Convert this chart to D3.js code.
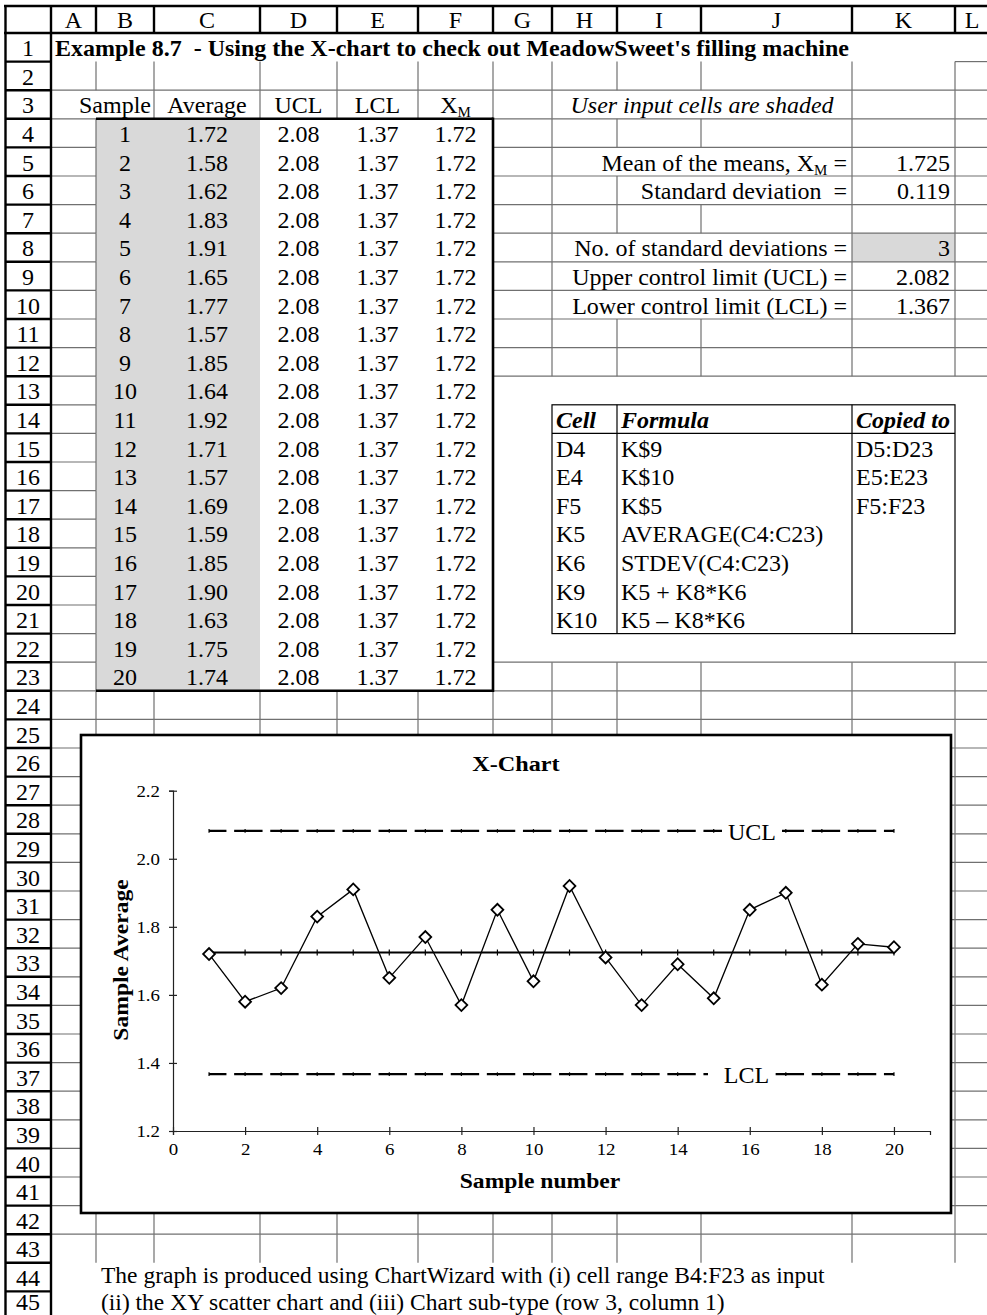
<!DOCTYPE html>
<html>
<head>
<meta charset="utf-8">
<script src="https://cdn.jsdelivr.net/npm/d3@7"></script>
<style>
  body { margin: 0; background: #fff; }
  svg { display: block; font-family: "Liberation Serif", "Times New Roman", serif; }
  text { white-space: pre; fill: #000; }
</style>
</head>
<body>
<svg id="sheet" width="987" height="1315"></svg>
<script>
// ---------- sheet contents ----------
const columnLetters = ["A", "B", "C", "D", "E", "F", "G", "H", "I", "J", "K", "L"];
const rowCount = 45;
const sampleNumbers = [1, 2, 3, 4, 5, 6, 7, 8, 9, 10, 11, 12, 13, 14, 15, 16, 17, 18, 19, 20];
const sampleAverages = [1.72, 1.58, 1.62, 1.83, 1.91, 1.65, 1.77, 1.57, 1.85, 1.64,
                        1.92, 1.71, 1.57, 1.69, 1.59, 1.85, 1.90, 1.63, 1.75, 1.74];
const numStdDevs = 3;
const tableHeaders = ["Sample", "Average", "UCL", "LCL"];
const yTickValues = [1.2, 1.4, 1.6, 1.8, 2.0, 2.2];
const xTickValues = [0, 2, 4, 6, 8, 10, 12, 14, 16, 18, 20];
const formulaCells = ["D4", "E4", "F5", "K5", "K6", "K9", "K10"];
const formulaTexts = ["K$9", "K$10", "K$5", "AVERAGE(C4:C23)", "STDEV(C4:C23)", "K5 + K8*K6", "K5 \u2013 K8*K6"];
const formulaCopies = ["D5:D23", "E5:E23", "F5:F23", "", "", "", ""];
const titleText = "Example 8.7  - Using the X-chart to check out MeadowSweet's filling machine";
const noteLines = [
  "The graph is produced using ChartWizard with (i) cell range B4:F23 as input",
  "(ii) the XY scatter chart and (iii) Chart sub-type (row 3, column 1)"
];

// statistics worked out the same way as the sheet (AVERAGE, STDEV)
const meanOfMeans = d3.mean(sampleAverages);
const stdDev = d3.deviation(sampleAverages);
const ucl = meanOfMeans + numStdDevs * stdDev;
const lcl = meanOfMeans - numStdDevs * stdDev;

// ---------- layout ----------
const svg = d3.select("#sheet");
const FS = 24;
const GRID = "#707070";
const colEdges = [51, 96, 154, 260, 337, 418, 493, 552, 617, 701, 852, 955, 1000];
const colMid = c => (colEdges[c] + colEdges[c + 1]) / 2;
const rowTop = r => 33 + (r - 1) * 28.6;
const rowBottom = r => rowTop(r + 1);
const baseY = r => Math.min(rowBottom(r) - 5.5, 1310);
const RIGHT = 987;

const gridG = svg.append("g").attr("stroke", GRID).attr("stroke-width", 1.2);
const hSeg = (g, y, x1, x2) => g.append("line").attr("x1", x1).attr("x2", x2).attr("y1", y).attr("y2", y);
const vSeg = (g, x, y1, y2) => g.append("line").attr("x1", x).attr("x2", x).attr("y1", y1).attr("y2", y2);

// fills of the input cells
svg.insert("rect", ":first-child")
  .attr("x", colEdges[1]).attr("y", rowTop(4))
  .attr("width", colEdges[3] - colEdges[1]).attr("height", rowBottom(23) - rowTop(4))
  .attr("fill", "#d9d9d9");
svg.insert("rect", ":first-child")
  .attr("x", colEdges[10]).attr("y", rowTop(8))
  .attr("width", colEdges[11] - colEdges[10]).attr("height", 28.6)
  .attr("fill", "#d9d9d9");

// vertical cell borders, row by row
const allBounds = d3.range(1, 12);
function boundsForRow(r) {
  if (r === 1) return [];
  if (r === 2) return allBounds;
  if (r === 3) return [2, 3, 4, 5, 6, 7, 10, 11];
  if (r >= 4 && r <= 12) {
    const b = [1, 7, 10, 11];
    if (![5, 8, 9, 10].includes(r)) b.push(8);
    if (![5, 6, 8, 9, 10].includes(r)) b.push(9);
    return b;
  }
  if (r >= 13 && r <= 22) return [1];
  if (r === 23) return [1, 7, 8, 9, 10, 11];
  if (r >= 24 && r <= 43) return allBounds;
  return [];
}
for (let r = 1; r <= rowCount; r++) {
  boundsForRow(r).forEach(k => vSeg(gridG, colEdges[k], rowTop(r), rowBottom(r)));
}

// horizontal cell borders
for (let r = 1; r <= rowCount; r++) {
  const y = rowBottom(r);
  if (r === 1) hSeg(gridG, y, colEdges[11], RIGHT);
  else if (r === 2 || (r >= 24 && r <= 42)) hSeg(gridG, y, colEdges[0], RIGHT);
  else if (r >= 3 && r <= 23) {
    hSeg(gridG, y, colEdges[0], colEdges[1]);
    if (r <= 12 || r >= 22) hSeg(gridG, y, colEdges[6], RIGHT);
  }
}

// heavy outline of the sample table
const heavy = svg.append("g").attr("stroke", "#000").attr("stroke-width", 2.6);
hSeg(heavy, rowTop(4), colEdges[1], colEdges[6]);
hSeg(heavy, rowBottom(23), colEdges[1], colEdges[6]);
vSeg(heavy, colEdges[6], rowTop(4) - 1.3, rowBottom(23) + 1.3);

// column header band and row header band
const hdr = svg.append("g").attr("stroke", "#000").attr("stroke-width", 2.4);
hSeg(hdr, 6, 4, RIGHT);
hSeg(hdr, rowTop(1), 4, RIGHT);
vSeg(hdr, 5.5, 5, 1315);
vSeg(hdr, colEdges[0], 5, 1315);
colEdges.slice(1, 12).forEach(x => vSeg(hdr, x, 6, rowTop(1)));
for (let r = 2; r <= rowCount + 1; r++) hSeg(hdr, rowTop(r), 5, colEdges[0]);

const textG = svg.append("g").attr("font-size", FS);
columnLetters.forEach((L, i) => {
  textG.append("text").attr("x", i === 11 ? 972 : colMid(i)).attr("y", 28)
    .attr("text-anchor", "middle").text(L);
});
for (let r = 1; r <= rowCount; r++) {
  textG.append("text").attr("x", 28).attr("y", baseY(r)).attr("text-anchor", "middle").text(r);
}

// title
textG.append("text").attr("x", 55).attr("y", baseY(1)).attr("font-weight", "bold").text(titleText);

// sample table
textG.append("text").attr("x", colEdges[2] - 3).attr("y", baseY(3)).attr("text-anchor", "end").text(tableHeaders[0]);
textG.append("text").attr("x", colMid(2)).attr("y", baseY(3)).attr("text-anchor", "middle").text(tableHeaders[1]);
textG.append("text").attr("x", colMid(3)).attr("y", baseY(3)).attr("text-anchor", "middle").text(tableHeaders[2]);
textG.append("text").attr("x", colMid(4)).attr("y", baseY(3)).attr("text-anchor", "middle").text(tableHeaders[3]);
const xmHead = textG.append("text").attr("x", colMid(5)).attr("y", baseY(3)).attr("text-anchor", "middle");
xmHead.append("tspan").text("X");
xmHead.append("tspan").attr("font-size", 15).attr("dy", 4).text("M");

const f2 = d3.format(".2f");
const f3 = d3.format(".3f");
sampleNumbers.forEach((n, i) => {
  const r = 4 + i;
  textG.append("text").attr("x", colMid(1)).attr("y", baseY(r)).attr("text-anchor", "middle").text(n);
  textG.append("text").attr("x", colMid(2)).attr("y", baseY(r)).attr("text-anchor", "middle").text(f2(sampleAverages[i]));
  textG.append("text").attr("x", colMid(3)).attr("y", baseY(r)).attr("text-anchor", "middle").text(f2(ucl));
  textG.append("text").attr("x", colMid(4)).attr("y", baseY(r)).attr("text-anchor", "middle").text(f2(lcl));
  textG.append("text").attr("x", colMid(5)).attr("y", baseY(r)).attr("text-anchor", "middle").text(f2(meanOfMeans));
});

// summary block
textG.append("text").attr("x", (colEdges[7] + colEdges[10]) / 2).attr("y", baseY(3))
  .attr("text-anchor", "middle").attr("font-style", "italic").text("User input cells are shaded");
const labX = colEdges[10] - 5, valX = colEdges[11] - 5;
const meanLab = textG.append("text").attr("x", labX).attr("y", baseY(5)).attr("text-anchor", "end");
meanLab.append("tspan").text("Mean of the means, X");
meanLab.append("tspan").attr("font-size", 15).attr("dy", 4).text("M");
meanLab.append("tspan").attr("dy", -4).text(" =");
const summary = [
  [6, "Standard deviation  =", f3(stdDev)],
  [8, "No. of standard deviations =", String(numStdDevs)],
  [9, "Upper control limit (UCL) =", f3(ucl)],
  [10, "Lower control limit (LCL) =", f3(lcl)]
];
textG.append("text").attr("x", valX).attr("y", baseY(5)).attr("text-anchor", "end").text(f3(meanOfMeans));
summary.forEach(([r, lab, val]) => {
  textG.append("text").attr("x", labX).attr("y", baseY(r)).attr("text-anchor", "end").text(lab);
  textG.append("text").attr("x", valX).attr("y", baseY(r)).attr("text-anchor", "end").text(val);
});

// formula table
const ft = svg.append("g").attr("stroke", "#000").attr("stroke-width", 1.2).attr("fill", "none");
ft.append("rect").attr("x", colEdges[7]).attr("y", rowTop(14))
  .attr("width", colEdges[11] - colEdges[7]).attr("height", rowBottom(21) - rowTop(14));
vSeg(ft, colEdges[8], rowTop(14), rowBottom(21));
vSeg(ft, colEdges[10], rowTop(14), rowBottom(21));
hSeg(ft, rowBottom(14), colEdges[7], colEdges[11]);
const ftx = [colEdges[7] + 4, colEdges[8] + 4, colEdges[10] + 4];
["Cell", "Formula", "Copied to"].forEach((h, i) => {
  textG.append("text").attr("x", ftx[i]).attr("y", baseY(14))
    .attr("font-weight", "bold").attr("font-style", "italic").text(h);
});
formulaCells.forEach((c, i) => {
  const r = 15 + i;
  textG.append("text").attr("x", ftx[0]).attr("y", baseY(r)).text(c);
  textG.append("text").attr("x", ftx[1]).attr("y", baseY(r)).text(formulaTexts[i]);
  if (formulaCopies[i]) textG.append("text").attr("x", ftx[2]).attr("y", baseY(r)).text(formulaCopies[i]);
});

// note under the chart
noteLines.forEach((t, i) => {
  textG.append("text").attr("x", 101).attr("y", 1283 + i * 27)
    .attr("font-size", 23.5).text(t);
});

// ---------- X-chart ----------
const chart = svg.append("g");
chart.append("rect").attr("x", 81).attr("y", 735).attr("width", 870).attr("height", 478)
  .attr("fill", "#fff").attr("stroke", "#000").attr("stroke-width", 2.6);

const x = d3.scaleLinear().domain([0, 21]).range([173, 930]);
const y = d3.scaleLinear().domain([1.2, 2.2]).range([1131, 790.7]);
const SX = 1.18; // chart lettering runs wide

const yAxis = chart.append("g").attr("transform", `translate(${x(0)},0)`)
  .call(d3.axisLeft(y).tickValues(yTickValues).tickFormat(d3.format(".1f")).tickSizeOuter(0).tickSize(4).tickPadding(0));
const xAxis = chart.append("g").attr("transform", `translate(0,${y(1.2)})`)
  .call(d3.axisBottom(x).tickValues(xTickValues).tickFormat(d3.format("d")).tickSizeOuter(0).tickSize(4).tickPadding(0));
[yAxis, xAxis].forEach(a => {
  a.select(".domain").attr("stroke", "#222").attr("stroke-width", 1.2);
  a.selectAll(".tick line").attr("stroke", "#222").attr("stroke-width", 1.2);
  a.selectAll("text").attr("font-family", "Liberation Serif, Times New Roman, serif").attr("font-size", 16).attr("fill", "#000");
});
yAxis.selectAll(".tick line").attr("x1", 4).attr("x2", -4);
yAxis.selectAll(".tick text").attr("x", -13 / SX).attr("dy", "0.35em").attr("transform", `scale(${SX},1)`);
xAxis.selectAll(".tick line").attr("y1", -4).attr("y2", 4);
xAxis.selectAll(".tick text").attr("y", 24).attr("dy", 0).attr("transform", `scale(${SX},1)`);

// titles
chart.append("text").attr("transform", `translate(516,771) scale(1.1,1)`)
  .attr("text-anchor", "middle").attr("font-weight", "bold").attr("font-size", 22).text("X-Chart");
chart.append("text").attr("transform", `translate(540,1188) scale(${SX},1)`)
  .attr("text-anchor", "middle").attr("font-weight", "bold").attr("font-size", 20).text("Sample number");
chart.append("text").attr("transform", `translate(128,960) rotate(-90) scale(${SX},1)`)
  .attr("text-anchor", "middle").attr("font-weight", "bold").attr("font-size", 20).text("Sample Average");

// control limits and centre line
const first = sampleNumbers[0], last = sampleNumbers[sampleNumbers.length - 1];
const limitLines = [
  { v: ucl, dash: "28.4 7.7", w: 2.2, tick: 1.8 },
  { v: lcl, dash: "28.4 7.7", w: 2.2, tick: 1.8 },
  { v: meanOfMeans, dash: null, w: 2.0, tick: 3 }
];
limitLines.forEach(L => {
  const ln = chart.append("line").attr("x1", x(first)).attr("x2", x(last))
    .attr("y1", y(L.v)).attr("y2", y(L.v)).attr("stroke", "#000").attr("stroke-width", L.w);
  if (L.dash) ln.attr("stroke-dasharray", L.dash).attr("stroke-dashoffset", 11);
  chart.append("g").selectAll("line").data(sampleNumbers).join("line")
    .attr("x1", d => x(d)).attr("x2", d => x(d))
    .attr("y1", y(L.v) - L.tick).attr("y2", y(L.v) + L.tick)
    .attr("stroke", "#000").attr("stroke-width", 1.2);
});

// line labels sitting on the limit lines
const lineLabels = [
  { text: "UCL", v: ucl, cx: 752, padL: 30, padR: 30 },
  { text: "LCL", v: lcl, cx: 746.5, padL: 38.5, padR: 28.5 }
];
lineLabels.forEach(l => {
  chart.append("rect").attr("x", l.cx - l.padL).attr("y", y(l.v) - 8)
    .attr("width", l.padL + l.padR).attr("height", 16).attr("fill", "#fff");
  chart.append("text").attr("x", l.cx).attr("y", y(l.v) + 9)
    .attr("text-anchor", "middle").attr("font-size", FS).text(l.text);
});

// sample averages
chart.append("path").datum(sampleAverages)
  .attr("d", d3.line().x((d, i) => x(sampleNumbers[i])).y(d => y(d)))
  .attr("fill", "none").attr("stroke", "#000").attr("stroke-width", 1.3);
chart.append("g").selectAll("path").data(sampleAverages).join("path")
  .attr("d", d3.symbol(d3.symbolSquare, 70))
  .attr("transform", (d, i) => `translate(${x(sampleNumbers[i])},${y(d)}) rotate(45)`)
  .attr("fill", "#fff").attr("stroke", "#000").attr("stroke-width", 1.8);
</script>
</body>
</html>
